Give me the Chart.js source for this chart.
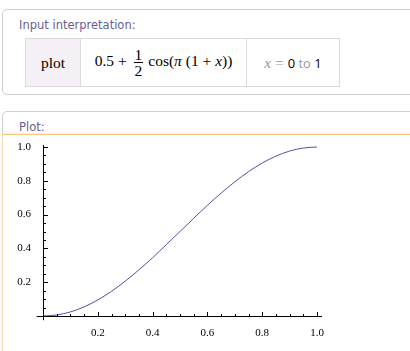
<!DOCTYPE html>
<html>
<head>
<meta charset="utf-8">
<script src="https://cdn.jsdelivr.net/npm/chart.js@4"></script>
<style>
  html, body { margin: 0; padding: 0; background: #fff; width: 410px; height: 351px; overflow: hidden; }
  .pod { position: absolute; left: 2px; width: 430px; border: 1px solid #d0d0d0; border-radius: 5px; box-sizing: border-box; background: #fff; }
  .title { position: absolute; left: 16px; font-family: "DejaVu Sans", Verdana, sans-serif; font-size: 11.5px; color: #67608f; }
  #pod1 { top: 9px; height: 86px; }
  #pod1 .title { top: 8px; }
  table { position: absolute; left: 22px; top: 28px; border-collapse: collapse; height: 49px; }
  td { border: 1px solid #dadada; text-align: center; padding: 0; font-family: "Liberation Serif", "Times New Roman", serif; font-size: 15.5px; color: #000; }
  td.c1 { width: 54px; background: #f5f0f5; }
  td.c2 { width: 165px; }
  td.c3 { width: 92px; }
  .frac { display: inline-block; vertical-align: middle; text-align: center; line-height: 15px; margin: 0 5px 0 3px; }
  .frac span { display: block; }
  .frac .num { border-bottom: 1px solid #000; padding: 0 1px; }
  .gray { color: #9a9a9a; }
  .sans { font-family: "Open Sans", "DejaVu Sans", sans-serif; font-size: 13px; }
  #pod2 { top: 111px; height: 260px; border-color: #d0d0d0; }
  #pod2 .title { top: 8px; }
  #orange { position: absolute; left: 2px; top: 134px; width: 420px; height: 1px; background: #f5c684; box-shadow: 0 -1px 2px #fbe3c6; }
  #plotarea { position: absolute; left: 2px; top: 135px; width: 420px; height: 230px; background: #fff; border-left: 1px solid #f6d9b2; }
  #wrap { position: absolute; left: 0; top: 136px; width: 410px; height: 215px; }
</style>
</head>
<body>
<div class="pod" id="pod1">
  <div class="title">Input interpretation:</div>
  <table>
    <tr>
      <td class="c1">plot</td>
      <td class="c2">0.5 + <span class="frac"><span class="num">1</span><span>2</span></span>cos(<i>π</i> (1 + <i>x</i>))</td>
      <td class="c3"><span class="gray"><i>x</i> = </span><span class="sans">0<span class="gray"> to </span>1</span></td>
    </tr>
  </table>
</div>
<div class="pod" id="pod2">
  <div class="title">Plot:</div>
</div>
<div id="plotarea"></div>
<div id="orange"></div>
<div id="wrap"><canvas id="c" width="410" height="215"></canvas></div>
<script>
// Data
const xValues = [0, 0.05, 0.1, 0.15, 0.2, 0.25, 0.3, 0.35, 0.4, 0.45, 0.5, 0.55, 0.6, 0.65, 0.7, 0.75, 0.8, 0.85, 0.9, 0.95, 1.0];
const yValues = [0, 0.006, 0.024, 0.054, 0.095, 0.146, 0.206, 0.273, 0.345, 0.422, 0.5, 0.578, 0.655, 0.727, 0.794, 0.854, 0.905, 0.946, 0.976, 0.994, 1.0];
const xTickValues = [0.2, 0.4, 0.6, 0.8, 1.0];
const xTickLabels = ['0.2', '0.4', '0.6', '0.8', '1.0'];
const yTickValues = [0.2, 0.4, 0.6, 0.8, 1.0];
const yTickLabels = ['0.2', '0.4', '0.6', '0.8', '1.0'];
const minorStep = 0.05;

const points = xValues.map((x, i) => ({ x: x, y: yValues[i] }));

const axesPlugin = {
  id: 'mathAxes',
  afterDraw(chart) {
    const ctx = chart.ctx;
    const xs = chart.scales.x, ys = chart.scales.y;
    const x0 = xs.getPixelForValue(0), y0 = ys.getPixelForValue(0);
    ctx.save();
    ctx.strokeStyle = '#000';
    ctx.lineWidth = 1;
    ctx.beginPath();
    ctx.moveTo(xs.getPixelForValue(-0.023), Math.round(y0) + 0.5);
    ctx.lineTo(xs.getPixelForValue(1.018), Math.round(y0) + 0.5);
    ctx.moveTo(Math.round(x0) + 0.5, ys.getPixelForValue(-0.025));
    ctx.lineTo(Math.round(x0) + 0.5, ys.getPixelForValue(1.012));
    for (let k = 1; k <= 20; k++) {
      const v = k * minorStep;
      const major = (k % 4 === 0);
      const len = major ? 4 : 2;
      const px = Math.round(xs.getPixelForValue(v)) + 0.5;
      ctx.moveTo(px, Math.round(y0));
      ctx.lineTo(px, Math.round(y0) - len);
      const py = Math.round(ys.getPixelForValue(v)) + 0.5;
      ctx.moveTo(Math.round(x0) + 1, py);
      ctx.lineTo(Math.round(x0) + 1 + len, py);
    }
    ctx.stroke();
    ctx.restore();
  }
};

new Chart(document.getElementById('c'), {
  type: 'scatter',
  data: {
    datasets: [{
      data: points,
      showLine: true,
      borderColor: '#5050a8',
      borderWidth: 1,
      pointRadius: 0,
      cubicInterpolationMode: 'monotone',
      clip: 5
    }]
  },
  options: {
    responsive: false,
    animation: false,
    devicePixelRatio: 1,
    layout: { padding: { left: 13, right: 93, top: 11, bottom: 15 } },
    plugins: { legend: { display: false }, tooltip: { enabled: false } },
    scales: {
      x: {
        type: 'linear', min: 0, max: 1,
        grid: { display: false }, border: { display: false },
        afterBuildTicks: s => { s.ticks = xTickValues.map(v => ({ value: v })); },
        afterFit: s => { s.height = 20; },
        ticks: {
          padding: 3, maxRotation: 0, autoSkip: false,
          color: '#000', font: { family: 'Liberation Serif', size: 11 },
          callback: (v) => { const i = xTickValues.indexOf(v); return i >= 0 ? xTickLabels[i] : ''; }
        }
      },
      y: {
        type: 'linear', min: 0, max: 1,
        grid: { display: false }, border: { display: false },
        afterBuildTicks: s => { s.ticks = yTickValues.map(v => ({ value: v })); },
        afterFit: s => { s.width = 30; },
        ticks: {
          padding: 4, autoSkip: false,
          color: '#000', font: { family: 'Liberation Serif', size: 11 },
          callback: (v) => { const i = yTickValues.indexOf(v); return i >= 0 ? yTickLabels[i] : ''; }
        }
      }
    }
  },
  plugins: [axesPlugin]
});
</script>
</body>
</html>
